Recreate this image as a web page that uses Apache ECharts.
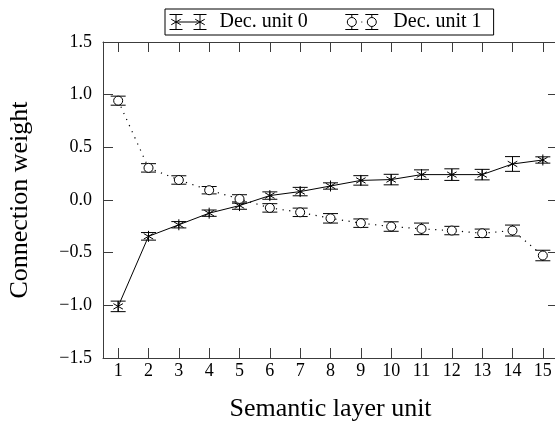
<!DOCTYPE html>
<html>
<head>
<meta charset="utf-8">
<script src="https://cdn.jsdelivr.net/npm/echarts@6/dist/echarts.min.js"></script>
<style>
  html, body { margin: 0; padding: 0; background: #fff; }
  #chart { width: 555px; height: 421px; }
</style>
</head>
<body>
<div id="chart"></div>
<script>
// Semantic layer units on the x axis
const xCategories = ['1', '2', '3', '4', '5', '6', '7', '8', '9', '10', '11', '12', '13', '14', '15'];

// Decoder unit 0: mean connection weight and error half-width
const unit0Mean = [-1.01, -0.345, -0.235, -0.125, -0.053, 0.042, 0.08, 0.133, 0.186, 0.194, 0.241, 0.241, 0.241, 0.342, 0.38];
const unit0Err  = [0.05, 0.036, 0.03, 0.03, 0.035, 0.035, 0.04, 0.03, 0.045, 0.05, 0.045, 0.055, 0.05, 0.07, 0.03];

// Decoder unit 1: mean connection weight and error half-width
const unit1Mean = [0.943, 0.305, 0.19, 0.093, 0.01, -0.075, -0.117, -0.174, -0.22, -0.252, -0.274, -0.29, -0.316, -0.29, -0.527];
const unit1Err  = [0.043, 0.04, 0.04, 0.035, 0.04, 0.04, 0.04, 0.045, 0.04, 0.045, 0.055, 0.04, 0.04, 0.052, 0.05];

// Y axis range and tick step
const yMin = -1.5, yMax = 1.5, yStep = 0.5;

const seriesNames = ['Dec. unit 0', 'Dec. unit 1'];

const FONT = '"Liberation Serif", "Times New Roman", serif';
const INK = '#000';
const FRAME = '#3c3c3c';

function withErr(means, errs) {
  return means.map((m, i) => [i, m, errs[i]]);
}

// Error bar with caps plus the point marker on top
function errorBarRenderer(kind) {
  return function (params, api) {
    const xi = api.value(0), m = api.value(1), e = api.value(2);
    const c = api.coord([xi, m]);
    const top = api.coord([xi, m + e]);
    const bot = api.coord([xi, m - e]);
    const cw = 7.5;
    const st = { stroke: INK, lineWidth: 1, fill: null };
    const children = [
      { type: 'line', shape: { x1: c[0], y1: top[1], x2: c[0], y2: bot[1] }, style: st },
      { type: 'line', shape: { x1: c[0] - cw, y1: top[1], x2: c[0] + cw, y2: top[1] }, style: st },
      { type: 'line', shape: { x1: c[0] - cw, y1: bot[1], x2: c[0] + cw, y2: bot[1] }, style: st }
    ];
    if (kind === 'asterisk') {
      const r = 5.5;
      [90, 30, 150].forEach(function (deg) {
        const a = deg * Math.PI / 180;
        const dx = r * Math.cos(a), dy = r * Math.sin(a);
        children.push({ type: 'line', shape: { x1: c[0] - dx, y1: c[1] + dy, x2: c[0] + dx, y2: c[1] - dy }, style: st });
      });
    } else {
      children.push({ type: 'circle', shape: { cx: c[0], cy: c[1], r: 4.5 }, style: { stroke: INK, lineWidth: 1, fill: '#fff' } });
    }
    return { type: 'group', children: children };
  };
}

// Legend glyphs: two marked error bars joined by the series line
const iconUnit0 =
  'path://M0 0L13 0M0 15L13 15M6.5 0L6.5 15' +
  'M1.74 10.25L11.26 4.75M1.74 4.75L11.26 10.25' +
  'M6.5 7.5L30.5 7.5' +
  'M24 0L37 0M24 15L37 15M30.5 0L30.5 15' +
  'M25.74 10.25L35.26 4.75M25.74 4.75L35.26 10.25';
const iconUnit1 =
  'path://M0 0L0 0M37 15L37 15' +
  'M2 0L15 0M2 15L15 15M8.5 0L8.5 3M8.5 12L8.5 15' +
  'M13 7.5A4.5 4.5 0 1 1 4 7.5A4.5 4.5 0 1 1 13 7.5' +
  'M18 7.5L19 7.5' +
  'M22 0L35 0M22 15L35 15M28.5 0L28.5 3M28.5 12L28.5 15' +
  'M33 7.5A4.5 4.5 0 1 1 24 7.5A4.5 4.5 0 1 1 33 7.5';

const chart = echarts.init(document.getElementById('chart'), null, { renderer: 'canvas' });

const frameLine = { show: true, onZero: false, lineStyle: { color: FRAME, width: 1 } };
const tick = { show: true, inside: true, length: 10, lineStyle: { color: FRAME, width: 1 } };

chart.setOption({
  animation: false,
  backgroundColor: '#fff',
  grid: { left: 103, top: 42, right: -3, bottom: 63, containLabel: false, outerBoundsMode: 'none' },
  legend: {
    left: 165,
    top: 9,
    orient: 'horizontal',
    padding: [3, 12, 3, 4],
    itemGap: 35,
    itemWidth: 37,
    itemHeight: 15,
    selectedMode: false,
    borderColor: '#000',
    borderWidth: 1,
    textStyle: { fontFamily: FONT, fontSize: 20, color: INK, padding: [0, 0, 0, 8] },
    data: [
      { name: seriesNames[0], icon: iconUnit0, itemStyle: { color: '#fff', borderColor: INK, borderWidth: 1 } },
      { name: seriesNames[1], icon: iconUnit1, itemStyle: { color: '#fff', borderColor: INK, borderWidth: 1 } }
    ]
  },
  xAxis: [
    {
      type: 'category',
      data: xCategories,
      position: 'bottom',
      boundaryGap: true,
      axisLine: frameLine,
      axisTick: Object.assign({ alignWithLabel: true, interval: 0 }, tick),
      axisLabel: { interval: 0, fontFamily: FONT, fontSize: 18, color: INK, margin: 4 },
      splitLine: { show: false },
      name: 'Semantic layer unit',
      nameLocation: 'middle',
      nameGap: 38,
      nameTextStyle: { fontFamily: FONT, fontSize: 26, color: INK }
    },
    {
      type: 'category',
      data: xCategories,
      position: 'top',
      boundaryGap: true,
      axisLine: frameLine,
      axisTick: Object.assign({ alignWithLabel: true, interval: 0 }, tick),
      axisLabel: { show: false },
      splitLine: { show: false }
    }
  ],
  yAxis: [
    {
      type: 'value',
      min: yMin,
      max: yMax,
      interval: yStep,
      position: 'left',
      axisLine: frameLine,
      axisTick: tick,
      axisLabel: {
        fontFamily: FONT, fontSize: 18, color: INK, margin: 11,
        formatter: v => v.toFixed(1).replace('-', '\u2212')
      },
      splitLine: { show: false },
      name: 'Connection weight',
      nameLocation: 'middle',
      nameGap: 70,
      nameTextStyle: { fontFamily: FONT, fontSize: 26, color: INK }
    },
    {
      type: 'value',
      min: yMin,
      max: yMax,
      interval: yStep,
      position: 'right',
      axisLine: frameLine,
      axisTick: tick,
      axisLabel: { show: false },
      splitLine: { show: false }
    }
  ],
  series: [
    {
      name: seriesNames[0],
      type: 'line',
      data: unit0Mean,
      showSymbol: false,
      symbol: 'none',
      lineStyle: { color: INK, width: 1 },
      itemStyle: { color: INK },
      z: 2
    },
    {
      name: seriesNames[1],
      type: 'line',
      data: unit1Mean,
      showSymbol: false,
      symbol: 'none',
      lineStyle: { color: INK, width: 1.2, type: [1.2, 5.5] },
      itemStyle: { color: INK },
      z: 2
    },
    {
      name: seriesNames[0],
      type: 'custom',
      renderItem: errorBarRenderer('asterisk'),
      data: withErr(unit0Mean, unit0Err),
      encode: { x: 0, y: 1 },
      z: 3
    },
    {
      name: seriesNames[1],
      type: 'custom',
      renderItem: errorBarRenderer('circle'),
      data: withErr(unit1Mean, unit1Err),
      encode: { x: 0, y: 1 },
      z: 3
    }
  ]
});
</script>
</body>
</html>
